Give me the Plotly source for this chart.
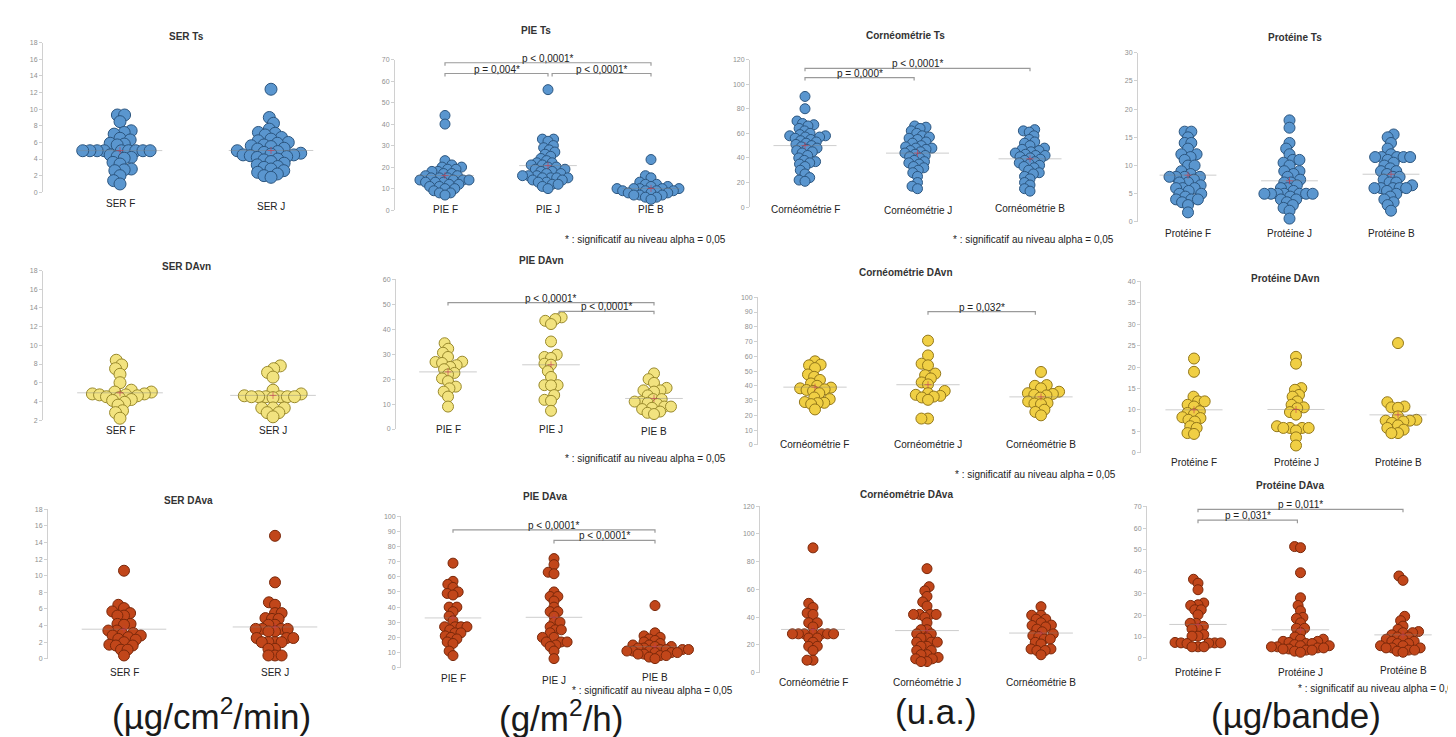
import numpy as np
import plotly.graph_objects as go

W, H = 1456, 737

# ---------------- data ----------------
ser_ts_f = [9.3, 9.3, 8.5, 7.4, 7.2, 7.0, 6.5, 6.3, 5.9, 5.8, 5.7, 5.0, 5.0, 5.0, 5.0, 5.0, 5.0, 5.0, 5.0, 5.0,
            4.5, 4.3, 4.2, 4.1, 3.6, 3.4, 2.8, 2.7, 2.6, 2.0, 1.4, 1.0]
ser_ts_j = [12.4, 9.0, 8.3, 7.6, 7.2, 7.1, 6.9, 6.6, 6.4, 6.2, 6.0, 5.9, 5.7, 5.6, 5.5, 5.3, 5.2, 5.0, 4.9, 4.8,
            4.7, 4.6, 4.5, 4.5, 4.4, 4.3, 4.2, 4.0, 3.9, 3.7, 3.5, 3.3, 3.1, 3.0, 2.8, 2.6, 2.4, 2.2, 2.0, 1.8]

pie_ts_f = [44, 40, 23, 21, 20, 20, 19, 19, 18, 18, 17, 17, 16, 16, 15, 15, 15, 14, 14, 14, 14, 13, 13, 13,
            12, 12, 11, 11, 10, 10, 9, 8, 8, 7]
pie_ts_j = [56, 33, 33, 32, 30, 29, 28, 27, 26, 25, 24, 23, 22, 22, 21, 21, 20, 20, 19, 19, 18, 18, 17, 17,
            16, 16, 16, 15, 15, 15, 15, 14, 14, 13, 13, 12, 12, 11, 10]
pie_ts_b = [23.5, 16, 15, 13, 12, 12, 11, 11, 10, 10, 10, 10, 10, 9, 9, 9, 9, 8, 8, 8, 7, 7, 7, 6, 6, 5]

corneo_ts_f = [90, 80, 70, 68, 67, 66, 64, 62, 60, 59, 58, 58, 57, 57, 56, 55, 54, 53, 52, 51, 50, 49, 48, 47,
               46, 45, 44, 42, 40, 38, 37, 36, 35, 33, 30, 27, 24, 22, 21]
corneo_ts_j = [66, 65, 64, 62, 60, 58, 57, 56, 55, 53, 52, 50, 49, 48, 48, 47, 46, 45, 44, 43, 42, 41, 40, 38,
               37, 36, 35, 33, 32, 30, 28, 25, 20, 17, 15]
corneo_ts_b = [63, 62, 61, 58, 55, 53, 52, 50, 48, 47, 46, 45, 44, 43, 42, 42, 41, 40, 39, 38, 37, 36, 35, 34,
               33, 32, 30, 28, 27, 25, 23, 20, 18, 15, 13]

prot_ts_f = [16, 16, 15, 14, 14, 13, 12, 12, 11.5, 11, 10, 10, 9, 8.5, 8, 8, 8, 8, 7.5, 7, 7, 6.5, 6, 6, 6,
             5.5, 5, 5, 4.5, 4, 4, 4, 3.5, 3, 1.7]
prot_ts_j = [18, 16.7, 14, 13, 12, 11, 11, 10.5, 10, 9, 9, 8.5, 8, 7.5, 7, 7, 6.5, 6, 6, 5.5, 5, 5, 5, 5, 5,
             5, 5, 4.5, 4, 4, 3.5, 3, 2.5, 2, 0.6]
prot_ts_b = [15.5, 15, 14, 13, 12, 11.5, 11.5, 11.5, 11.5, 11.5, 11, 10.5, 10, 9.5, 9, 9, 8.5, 8, 8, 7.5, 7,
             7, 6.5, 6, 6, 6, 6, 6, 5.5, 5, 4.5, 4, 3.5, 3, 2]

ser_davn_f = [8.4, 7.9, 7.5, 6.9, 6.0, 5.2, 5.0, 5.0, 4.8, 4.8, 4.7, 4.7, 4.6, 4.5, 4.4, 4.2, 4.1, 3.9, 3.6,
              3.0, 2.8, 2.2]
ser_davn_j = [7.8, 7.5, 7.1, 6.6, 5.2, 4.8, 4.6, 4.5, 4.5, 4.5, 4.5, 4.5, 4.5, 4.4, 3.3, 3.3, 3.3, 2.8, 2.8, 2.35]

pie_davn_f = [34.4, 32.2, 30.6, 28.9, 27.0, 26.9, 26.5, 25.6, 24.9, 24.0, 22.5, 21.9, 20.3, 19.2, 17.0, 16.3,
              15.0, 13.0, 9.0]
pie_davn_j = [44.8, 44.1, 43.4, 42.1, 35.1, 29.8, 28.9, 28.5, 26.2, 25.8, 23.2, 20.9, 17.6, 17.6, 17.5, 13.6,
              11.7, 11.3, 7.3]
pie_davn_b = [22.3, 20.0, 18.5, 16.5, 15.5, 15.5, 15.0, 13.5, 12.0, 12.0, 11.0, 11.0, 10.5, 10.0, 9.0, 9.0,
              8.5, 8.0, 7.0, 6.5, 6.0]

corneo_davn_f = [56.6, 54.3, 53.9, 52.0, 47.7, 46.1, 44.0, 41.6, 40.0, 38.8, 38.3, 37.6, 37.2, 36.5, 35.0, 32.1,
                 31.0, 29.0, 28.5, 28.3, 27.6, 24.0]
corneo_davn_j = [70.6, 60.6, 55.0, 53.9, 48.3, 47.2, 45.0, 42.3, 41.0, 36.5, 35.0, 33.9, 33.2, 32.7, 32.1, 30.5,
                 17.8, 17.8]
corneo_davn_b = [49.4, 40.5, 40.0, 38.3, 36.0, 35.0, 34.5, 33.9, 33.5, 32.0, 29.4, 28.3, 28.0, 27.6, 23.8, 22.3,
                 20.0]

prot_davn_f = [22.0, 18.9, 13.1, 12.0, 12.0, 11.2, 10.8, 9.7, 9.3, 9.0, 8.3, 8.1, 7.7, 7.3, 6.2, 5.8, 4.6, 4.4]
prot_davn_j = [22.4, 20.8, 15.1, 14.7, 13.5, 13.1, 12.0, 11.2, 10.6, 10.4, 9.5, 8.9, 6.2, 5.8, 5.8, 5.8, 5.8,
               5.2, 3.6, 1.7]
prot_davn_b = [25.6, 11.8, 10.8, 10.6, 10.5, 8.5, 7.7, 7.5, 7.5, 7.3, 7.0, 6.4, 5.8, 5.4, 4.6, 4.6]

ser_dava_f = [10.6, 6.5, 6.1, 5.7, 5.5, 5.2, 5.2, 4.2, 4.2, 4.1, 3.4, 3.4, 3.1, 3.0, 2.8, 2.8, 2.6, 2.4, 2.3,
              2.0, 1.7, 1.6, 1.6, 1.1, 1.1, 0.4]
ser_dava_j = [14.8, 9.2, 6.8, 6.5, 5.5, 5.5, 4.9, 4.8, 4.8, 4.1, 4.1, 3.6, 3.6, 3.6, 3.6, 3.3, 3.3, 2.5, 2.5,
              2.5, 2.0, 2.0, 2.0, 2.0, 1.2, 1.2, 0.4, 0.4, 0.4]

pie_dava_f = [69, 57, 55, 53, 50, 49, 48, 40, 40, 37, 34, 31, 27, 27, 27, 27, 25, 23, 23, 21, 20, 19, 17, 16,
              11, 8]
pie_dava_j = [72, 68, 63, 62, 50, 47, 47, 44, 40, 37, 37, 34, 30, 30, 27, 25, 25, 23, 20, 20, 17, 17, 17, 15,
              14, 11, 6]
pie_dava_b = [41, 23, 21, 20, 19, 18, 17, 16, 15, 15, 14, 14, 13, 13, 12, 12, 12, 12, 11, 11, 11, 10, 10, 10,
              9, 9, 8, 8, 7, 6]

corneo_dava_f = [90, 50, 47, 43, 42, 36, 36, 33, 28, 28, 28, 28, 28, 28, 28, 25, 25, 22, 19, 19, 16, 9, 9]
corneo_dava_j = [75, 62, 59, 55, 51, 48, 42, 42, 42, 42, 40, 36, 31, 31, 28, 28, 25, 25, 22, 22, 22, 19, 19,
                 16, 16, 13, 13, 11, 10, 10, 8, 8]
corneo_dava_b = [47.6, 41.4, 41.4, 38.6, 38.6, 36, 34.3, 34, 33, 31.4, 29.5, 28, 26.7, 26, 24.3, 24.3, 21.9,
                 20.7, 17.1, 17.1, 16, 16, 12.9]

prot_dava_f = [36.5, 34.7, 31.7, 25.6, 24.8, 24.5, 22.5, 22.5, 20.2, 16.3, 16.3, 14.9, 13.7, 13.7, 11.1, 10.4,
               10.4, 7.5, 7.3, 7.3, 7.3, 7.2, 7.0, 5.5, 5.5, 5.5]
prot_dava_j = [51.5, 51, 39.5, 28, 24.5, 22, 19, 18.5, 16.5, 14, 14, 12, 10, 9, 9, 8, 8, 7.5, 7, 7, 6.5, 6, 6,
               5.5, 5.5, 5, 5, 4.5, 4.5, 4, 4, 3.5, 3]
prot_dava_b = [38, 36, 19.5, 17.5, 15, 13.5, 12.5, 12, 12, 11, 10, 10, 9, 9, 8, 8, 7, 7, 6, 6, 5, 5, 5, 4, 4,
               3.5, 3]

cats_ser = ["SER F", "SER J"]
cats_pie = ["PIE F", "PIE J", "PIE B"]
cats_corneo = ["Cornéométrie F", "Cornéométrie J", "Cornéométrie B"]
cats_prot = ["Protéine F", "Protéine J", "Protéine B"]

FOOT = "* : significatif au niveau alpha = 0,05"

# ---------------- styles ----------------
BLUE = dict(fill="#5a96cf", edge="#2c5680")
YEL1 = dict(fill="#f2e37f", edge="#9a8a2c")
YEL2 = dict(fill="#f0cf44", edge="#94781a")
RED = dict(fill="#c1461a", edge="#7a280a")

panels = [
    dict(title="SER Ts", cats=cats_ser, groups=[ser_ts_f, ser_ts_j], y=(0, 18, 2), ax=35, yt=31, yb=182,
         cx=[112, 263], ly=[193, 196], t=(178, 25), st=BLUE, ms=12, br=[]),
    dict(title="PIE Ts", cats=cats_pie, groups=[pie_ts_f, pie_ts_j, pie_ts_b], y=(0, 70, 10), ax=387, yt=48,
         yb=200, cx=[437, 540, 643], ly=[199, 199, 199], t=(528, 19), st=BLUE, ms=10,
         br=[(0, 2, 68.5, "p < 0,0001*"), (0, 1, 63.5, "p = 0,004*"), (1.04, 2, 63.5, "p < 0,0001*")]),
    dict(title="Cornéométrie Ts", cats=cats_corneo, groups=[corneo_ts_f, corneo_ts_j, corneo_ts_b],
         y=(0, 120, 20), ax=742, yt=48, yb=197, cx=[797, 913, 1022], ly=[199, 200, 198], t=(897, 24),
         st=BLUE, ms=10, br=[(0, 2, 112.8, "p < 0,0001*"), (0, 0.97, 105.3, "p = 0,000*")]),
    dict(title="Protéine Ts", cats=cats_prot, groups=[prot_ts_f, prot_ts_j, prot_ts_b], y=(0, 30, 5), ax=1130,
         yt=41, yb=212, cx=[1180, 1282, 1383], ly=[224, 224, 224], t=(1287, 26), st=BLUE, ms=11, br=[]),
    dict(title="SER DAvn", cats=cats_ser, groups=[ser_davn_f, ser_davn_j], y=(2, 18, 2), ax=35, yt=261, yb=412,
         cx=[112, 265], ly=[423, 423], t=(178, 257), st=YEL1, ms=12, br=[]),
    dict(title="PIE DAvn", cats=cats_pie, groups=[pie_davn_f, pie_davn_j, pie_davn_b], y=(0, 60, 10), ax=388,
         yt=270, yb=421, cx=[440, 541, 646], ly=[422, 422, 424], t=(533, 251), st=YEL1, ms=11,
         br=[(0, 2, 50.7, "p < 0,0001*"), (1.08, 2, 47.2, "p < 0,0001*")]),
    dict(title="Cornéométrie DAvn", cats=cats_corneo, groups=[corneo_davn_f, corneo_davn_j, corneo_davn_b],
         y=(0, 100, 10), ax=750, yt=288, yb=437, cx=[807, 920, 1033], ly=[437, 437, 437], t=(898, 263),
         st=YEL2, ms=11, br=[(1, 1.95, 90.2, "p = 0,032*")]),
    dict(title="Protéine DAvn", cats=cats_prot, groups=[prot_davn_f, prot_davn_j, prot_davn_b], y=(0, 40, 5),
         ax=1133, yt=272, yb=445, cx=[1186, 1287, 1390], ly=[455, 455, 455], t=(1277, 269), st=YEL2, ms=11,
         br=[]),
    dict(title="SER DAva", cats=cats_ser, groups=[ser_dava_f, ser_dava_j], y=(0, 18, 2), ax=40, yt=502, yb=653,
         cx=[116, 267], ly=[667, 667], t=(180, 493), st=RED, ms=11, br=[]),
    dict(title="PIE DAva", cats=cats_pie, groups=[pie_dava_f, pie_dava_j, pie_dava_b], y=(0, 100, 10), ax=393,
         yt=509, yb=662, cx=[445, 547, 647], ly=[673, 675, 672], t=(537, 489), st=RED, ms=10,
         br=[(0, 2, 91, "p < 0,0001*"), (1, 2, 84, "p < 0,0001*")]),
    dict(title="Cornéométrie DAva", cats=cats_corneo, groups=[corneo_dava_f, corneo_dava_j, corneo_dava_b],
         y=(0, 120, 20), ax=752, yt=499, yb=667, cx=[805, 922, 1033], ly=[677, 677, 677], t=(898, 487),
         st=RED, ms=10, br=[]),
    dict(title="Protéine DAva", cats=cats_prot, groups=[prot_dava_f, prot_dava_j, prot_dava_b], y=(0, 70, 10),
         ax=1139, yt=499, yb=653, cx=[1190, 1293, 1395], ly=[667, 667, 665], t=(1282, 478), st=RED, ms=10,
         br=[(0, 2, 68.6, "p = 0,011*"), (0, 0.97, 63.6, "p = 0,031*")]),
]

footnotes = [
    (720, 230, "right"), (1108, 230, "right"), (720, 451, "right"),
    (1110, 467, "right"), (727, 685, "right"), (1288, 683, "left"),
]
units = [("(µg/cm<sup>2</sup>/min)", 203, 709), ("(g/m<sup>2</sup>/h)", 553, 711),
         ("(u.a.)", 928, 706), ("(µg/bande)", 1288, 710)]

FONT = "Liberation Sans, Arial, sans-serif"


def px2x(px):
    return min(max(px / W, 0.0), 1.0)


def px2y(py):
    return min(max(1 - py / H, 0.0), 1.0)


def swarm(vals, ppu, r):
    """beeswarm offsets (pixels) for values, ppu = pixels per data unit, r = min centre distance"""
    vals = np.asarray(vals, float)
    order = np.argsort(vals, kind="stable")
    placed = []
    xs = np.zeros(len(vals))
    for idx in order:
        y = vals[idx] * ppu
        cands = [0.0]
        for (px, py) in placed:
            dy = abs(py - y)
            if dy < r:
                dx = np.sqrt(r * r - dy * dy)
                cands += [px + dx, px - dx]
        cands.sort(key=lambda c: (round(abs(c), 6), c))
        chosen = cands[0]
        for c in cands:
            if all((c - px) ** 2 + (y - py) ** 2 >= r * r - 1e-6 for px, py in placed):
                chosen = c
                break
        xs[idx] = chosen
        placed.append((chosen, y))
    return xs


fig = go.Figure()
annotations = []
layout_axes = {}

for k, p in enumerate(panels):
    n = k + 1
    xa = "x" if n == 1 else f"x{n}"
    ya = "y" if n == 1 else f"y{n}"
    xkey = "xaxis" if n == 1 else f"xaxis{n}"
    ykey = "yaxis" if n == 1 else f"yaxis{n}"
    ymin, ymax, dt = p["y"]
    cx = p["cx"]
    ncat = len(p["cats"])
    d = (cx[-1] - cx[0]) / (ncat - 1)
    x0px, x1px = p["ax"], min(cx[-1] + 0.55 * d, W - 1)
    xr = [-(cx[0] - x0px) / d, (x1px - cx[0]) / d]
    ppu = (p["yb"] - p["yt"]) / (ymax - ymin)

    layout_axes[xkey] = dict(domain=[px2x(x0px), px2x(x1px)], range=xr, visible=False, anchor=ya,
                             fixedrange=True)
    layout_axes[ykey] = dict(domain=[px2y(p["yb"]), px2y(p["yt"])], range=[ymin, ymax], dtick=dt, tick0=ymin,
                             anchor=xa, showline=True, linecolor="#d0d0d0", linewidth=1, ticks="outside",
                             ticklen=3, tickcolor="#d0d0d0", showgrid=False, zeroline=False,
                             tickfont=dict(size=7, color="#8f8f8f", family=FONT), fixedrange=True)

    st = p["st"]
    for gi, vals in enumerate(p["groups"]):
        offs = swarm(vals, ppu, 0.6 * p["ms"])
        xs = gi + offs / d
        fig.add_trace(go.Scatter(
            x=xs, y=vals, mode="markers", xaxis=xa, yaxis=ya, showlegend=False, cliponaxis=False,
            marker=dict(size=p["ms"], color=st["fill"], line=dict(color=st["edge"], width=1)),
            hoverinfo="y"))
        m = float(np.mean(vals))
        fig.add_trace(go.Scatter(
            x=[gi - 0.28, gi + 0.28], y=[m, m], mode="lines", xaxis=xa, yaxis=ya, showlegend=False,
            line=dict(color="rgba(130,130,130,0.4)", width=1), hoverinfo="skip"))
        fig.add_trace(go.Scatter(
            x=[gi], y=[m], mode="markers", xaxis=xa, yaxis=ya, showlegend=False,
            marker=dict(symbol="cross-thin", size=5, line=dict(color="rgba(200,60,80,0.6)", width=1)),
            hoverinfo="skip"))
        annotations.append(dict(x=gi, y=px2y(p["ly"][gi]), xref=xa, yref="paper", text=p["cats"][gi],
                                showarrow=False, xanchor="center", yanchor="middle",
                                font=dict(size=10, color="#222", family=FONT)))

    tick = 3.0 / ppu
    for (i, j, yv, txt) in p["br"]:
        fig.add_trace(go.Scatter(
            x=[i, i, j, j], y=[yv - tick, yv, yv, yv - tick], mode="lines", xaxis=xa, yaxis=ya,
            showlegend=False, cliponaxis=False, line=dict(color="#9a9a9a", width=1.2), hoverinfo="skip"))
        annotations.append(dict(x=(i + j) / 2, y=yv, xref=xa, yref=ya, text=txt, showarrow=False,
                                xanchor="center", yanchor="bottom", yshift=-3,
                                font=dict(size=10, color="#222", family=FONT)))

    annotations.append(dict(x=px2x(p["t"][0]), y=px2y(p["t"][1]), xref="paper", yref="paper",
                            text=f"<b>{p['title']}</b>", showarrow=False, xanchor="center",
                            yanchor="middle", font=dict(size=10, color="#333", family=FONT)))

for (fx, fy, anc) in footnotes:
    annotations.append(dict(x=px2x(fx), y=px2y(fy), xref="paper", yref="paper", text=FOOT, showarrow=False,
                            xanchor=anc, yanchor="middle", font=dict(size=10, color="#222", family=FONT)))

for (txt, ux, uy) in units:
    annotations.append(dict(x=px2x(ux), y=px2y(uy), xref="paper", yref="paper", text=txt, showarrow=False,
                            xanchor="center", yanchor="middle", font=dict(size=35, color="#1a1a1a",
                                                                          family=FONT)))

fig.update_layout(width=W, height=H, margin=dict(l=0, r=0, t=0, b=0), paper_bgcolor="white",
                  plot_bgcolor="white", annotations=annotations, showlegend=False, **layout_axes)

fig.write_html("out.html")
